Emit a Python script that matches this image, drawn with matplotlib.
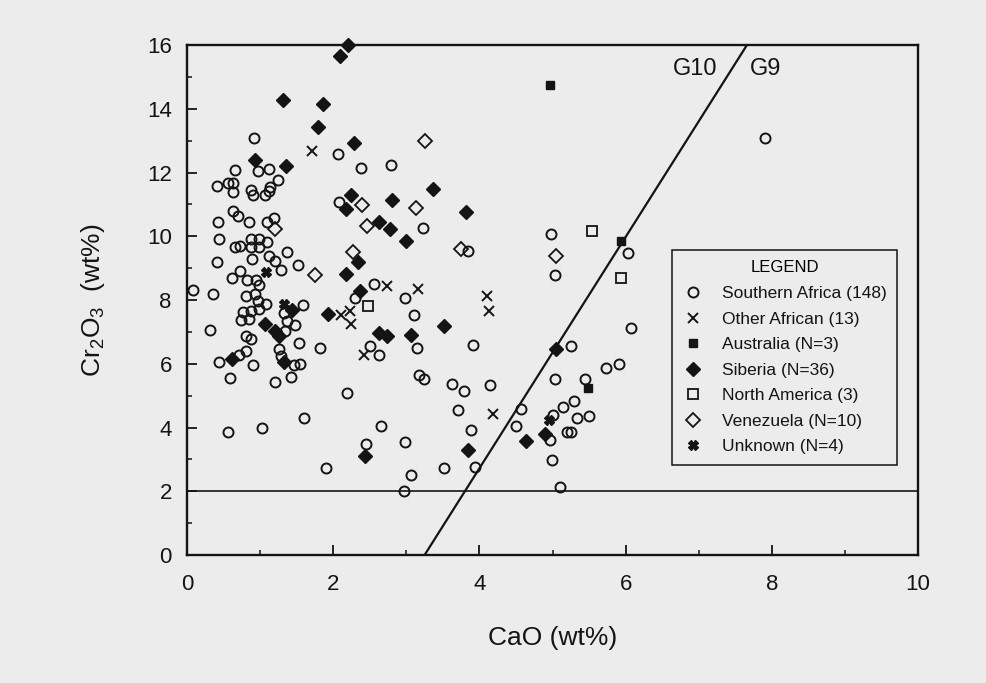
import matplotlib
matplotlib.use("Agg")
import matplotlib.pyplot as plt
from matplotlib.ticker import MultipleLocator

# ---------------- data (CaO, Cr2O3 wt%) ----------------
sa_cao = [0.91, 2.06, 2.38, 2.79, 0.97, 0.66, 1.12, 1.24, 0.41, 0.56, 0.63, 0.63,
          0.88, 0.90, 1.07, 1.12, 1.14, 2.08, 3.23, 0.42, 0.44, 0.63, 0.70, 0.85,
          1.09, 1.19, 0.66, 0.73, 0.87, 0.98, 1.09, 0.88, 0.98, 0.89, 1.12, 1.21,
          1.29, 1.37, 0.41, 1.52, 0.61, 0.72, 0.82, 0.95, 0.98, 0.36, 0.08, 0.81,
          0.93, 0.97, 1.08, 0.99, 0.88, 0.77, 0.74, 0.85, 1.58, 1.33, 1.37, 1.48,
          1.34, 0.32, 0.80, 0.87, 1.53, 1.82, 1.26, 1.28, 0.80, 0.71, 0.44, 0.90,
          1.46, 1.55, 0.59, 1.21, 1.42, 2.19, 1.60, 3.85, 2.56, 2.30, 2.98, 3.11,
          3.14, 2.50, 2.62, 3.18, 3.24, 3.63, 3.79, 3.71, 0.56, 1.03, 2.66, 2.98,
          2.45, 1.90, 3.06, 3.52, 2.97, 3.91, 4.14, 3.89, 3.94, 5.25, 6.07, 5.73,
          5.91, 5.04, 5.44, 5.30, 5.14, 5.00, 5.33, 5.50, 4.57, 4.50, 4.97, 5.20,
          5.25, 4.99, 5.10, 4.98, 5.04, 6.03, 7.91]
sa_cr = [13.07, 12.59, 12.15, 12.23, 12.06, 12.08, 12.12, 11.75, 11.59, 11.67, 11.67, 11.38,
         11.45, 11.28, 11.28, 11.43, 11.56, 11.06, 10.25, 10.45, 9.92, 10.79, 10.63, 10.45,
         10.45, 10.58, 9.67, 9.71, 9.92, 9.92, 9.82, 9.66, 9.66, 9.29, 9.39, 9.23,
         8.94, 9.50, 9.18, 9.10, 8.69, 8.90, 8.64, 8.64, 8.48, 8.19, 8.32, 8.14,
         8.19, 7.98, 7.88, 7.72, 7.65, 7.62, 7.38, 7.41, 7.85, 7.60, 7.35, 7.22,
         7.04, 7.05, 6.88, 6.78, 6.66, 6.49, 6.45, 6.25, 6.41, 6.28, 6.07, 5.97,
         5.97, 6.00, 5.56, 5.42, 5.60, 5.09, 4.30, 9.55, 8.51, 8.05, 8.06, 7.53,
         6.50, 6.57, 6.26, 5.66, 5.53, 5.35, 5.16, 4.54, 3.85, 4.00, 4.05, 3.56,
         3.48, 2.73, 2.51, 2.73, 2.02, 6.60, 5.32, 3.93, 2.75, 6.55, 7.12, 5.87,
         6.00, 5.53, 5.52, 4.82, 4.64, 4.38, 4.29, 4.37, 4.59, 4.06, 3.62, 3.85,
         3.85, 2.99, 2.13, 10.06, 8.79, 9.46, 13.09]

oa_cao = [1.71, 2.74, 3.16, 2.10, 2.23, 2.24, 2.42, 4.11, 4.13, 4.18]
oa_cr = [12.67, 8.43, 8.33, 7.53, 7.67, 7.25, 6.27, 8.12, 7.65, 4.41]

au_cao = [4.96, 5.93, 5.48]
au_cr = [14.74, 9.86, 5.23]

sib_cao = [2.20, 2.09, 1.31, 1.86, 1.79, 2.29, 0.93, 1.36, 2.24, 2.17, 2.80, 3.37,
           3.82, 2.62, 2.77, 3.00, 2.34, 2.18, 2.37, 1.93, 2.62, 2.73, 3.07, 3.52,
           1.07, 1.21, 1.26, 1.44, 0.61, 1.33, 2.43, 3.85, 5.05, 4.64, 4.90]
sib_cr = [16.00, 15.67, 14.28, 14.16, 13.43, 12.92, 12.39, 12.21, 11.29, 10.87, 11.13, 11.47,
          10.76, 10.45, 10.22, 9.84, 9.20, 8.83, 8.29, 7.57, 6.97, 6.88, 6.90, 7.20,
          7.26, 7.02, 6.87, 7.70, 6.15, 6.07, 3.12, 3.30, 6.46, 3.58, 3.81]

na_cao = [2.47, 5.54, 5.93]
na_cr = [7.81, 10.16, 8.70]

ven_cao = [3.25, 2.40, 3.13, 2.46, 1.21, 1.75, 2.27, 3.75, 5.05]
ven_cr = [12.98, 10.97, 10.88, 10.32, 10.23, 8.79, 9.52, 9.60, 9.38]

unk_cao = [1.08, 1.33, 4.95]
unk_cr = [8.88, 7.87, 4.25]

# G10 / G9 dividing line and the 2 wt% Cr2O3 cut-off
line_cao = [3.25, 7.66]
line_cr = [0.0, 16.0]
cr_cutoff = 2.0

# ---------------- style ----------------
plt.rcParams['font.family'] = ['Liberation Sans', 'DejaVu Sans']
plt.rcParams['mathtext.fontset'] = 'custom'
plt.rcParams['mathtext.rm'] = 'Liberation Sans'
plt.rcParams['mathtext.default'] = 'regular'

BG = '#ececec'
INK = '#141414'

fig = plt.figure(figsize=(9.87, 6.83), dpi=100, facecolor=BG)
ax = fig.add_axes([0.1895, 0.1874, 0.7406, 0.7467], facecolor=BG)

ax.axhline(cr_cutoff, color=INK, lw=1.2, zorder=1)
ax.plot(line_cao, line_cr, color=INK, lw=1.6, zorder=1)

ms = dict(linestyle='none', zorder=3, clip_on=False)
ax.plot(sa_cao, sa_cr, marker='o', ms=7.2, mfc='none', mec=INK, mew=1.4,
        label='Southern Africa (148)', **ms)
ax.plot(oa_cao, oa_cr, marker='x', ms=6.5, mec=INK, mew=1.4,
        label='Other African (13)', **ms)
ax.plot(au_cao, au_cr, marker='s', ms=5.5, mfc=INK, mec=INK,
        label='Australia (N=3)', **ms)
ax.plot(sib_cao, sib_cr, marker='D', ms=7, mfc=INK, mec=INK,
        label='Siberia (N=36)', **ms)
ax.plot(na_cao, na_cr, marker='s', ms=6.5, mfc='none', mec=INK, mew=1.3,
        label='North America (3)', **ms)
ax.plot(ven_cao, ven_cr, marker='D', ms=6.8, mfc='none', mec=INK, mew=1.3,
        label='Venezuela (N=10)', **ms)
ax.plot(unk_cao, unk_cr, marker='X', ms=7, mfc=INK, mec=INK,
        label='Unknown (N=4)', **ms)

ax.text(6.65, 15.05, 'G10', fontsize=17, color=INK)
ax.text(7.70, 15.05, 'G9', fontsize=17, color=INK)

# axes, ticks
ax.set_xlim(0, 10)
ax.set_ylim(0, 16)
ax.xaxis.set_major_locator(MultipleLocator(2))
ax.xaxis.set_minor_locator(MultipleLocator(1))
ax.yaxis.set_major_locator(MultipleLocator(2))
ax.yaxis.set_minor_locator(MultipleLocator(1))
ax.tick_params(which='both', direction='in', top=False, right=False, color=INK)
ax.tick_params(which='major', length=7, width=1.3, labelsize=16, labelcolor=INK)
ax.tick_params(which='minor', length=3.5, width=1.1)
ax.tick_params(axis='x', which='major', pad=14)
ax.tick_params(axis='y', which='major', pad=11)
for sp in ax.spines.values():
    sp.set_linewidth(1.7)
    sp.set_color(INK)

ax.set_xlabel('CaO (wt%)', fontsize=19, color=INK)
ax.set_ylabel(r'Cr$_2$O$_3$  (wt%)', fontsize=19, color=INK)
ax.xaxis.set_label_coords(0.5, -0.14)
ax.yaxis.set_label_coords(-0.11, 0.5)

leg = ax.legend(loc='upper left', bbox_to_anchor=(0.663, 0.598), title='LEGEND',
                fontsize=12.5, title_fontsize=12, frameon=True, fancybox=False,
                edgecolor=INK, facecolor=BG, framealpha=1, borderpad=0.6,
                handlelength=1.3, handletextpad=1.0, labelspacing=0.6,
                numpoints=1, borderaxespad=0)
leg.get_frame().set_linewidth(1.1)
for t in leg.get_texts():
    t.set_color(INK)

fig.savefig('out.png', dpi=100, facecolor=BG)
